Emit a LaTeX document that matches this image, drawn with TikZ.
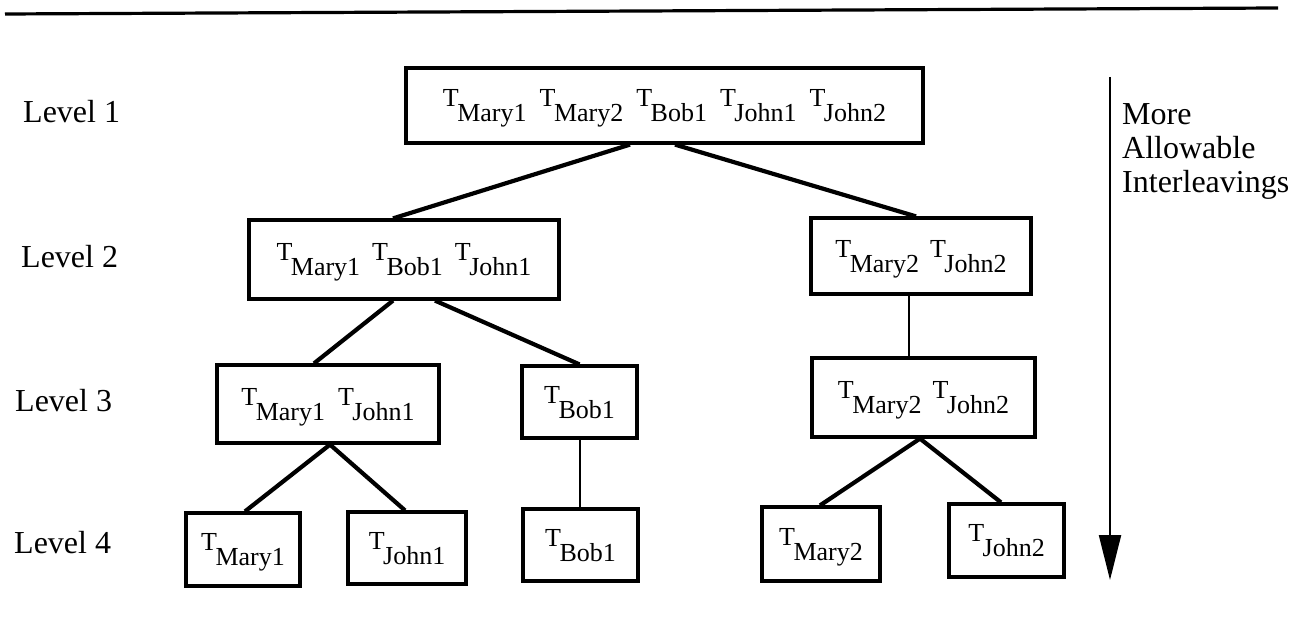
\documentclass[tikz,border=0pt]{standalone}
\usepackage{fontspec}
\setmainfont{Liberation Serif}
\usetikzlibrary{arrows.meta}
\newcommand{\Tsub}[1]{T\kern-1.5pt\raisebox{-15pt}{\fontsize{26}{26}\selectfont #1}}
\begin{document}
\begin{tikzpicture}[x=1pt,y=-1pt,
  tbox/.style={draw, line width=3.2pt, inner sep=0pt, text height=17pt, text depth=15pt,
               font=\fontsize{26}{30}\selectfont},
  heavyline/.style={line width=4.2pt},
  lightline/.style={line width=2pt},
  lvl/.style={anchor=base west, inner sep=0pt, font=\fontsize{32}{34}\selectfont}]
\fill[white] (0,0) rectangle (1305,631);
\useasboundingbox (0,0) rectangle (1305,631);

% top rule
\coordinate (ruleL) at (5,14);
\coordinate (ruleR) at (1278,8);
\draw[line width=3.2pt] (ruleL) -- (ruleR);

% level labels
\node[lvl] (lv1) at (23,123) {Level 1};
\node[lvl] (lv2) at (21,267) {Level 2};
\node[lvl] (lv3) at (15,411) {Level 3};
\node[lvl] (lv4) at (14,553) {Level 4};

% boxes
\node[tbox, minimum width=517pt, minimum height=75pt] (l1) at (664.5,105.5)
  {\Tsub{Mary1}\hspace{13pt}\Tsub{Mary2}\hspace{13pt}\Tsub{Bob1}\hspace{13pt}\Tsub{John1}\hspace{13pt}\Tsub{John2}};
\node[tbox, minimum width=310pt, minimum height=79pt] (l2a) at (404,259.5)
  {\Tsub{Mary1}\hspace{12pt}\Tsub{Bob1}\hspace{12pt}\Tsub{John1}};
\node[tbox, minimum width=220pt, minimum height=76pt] (l2b) at (921,256)
  {\Tsub{Mary2}\hspace{11pt}\Tsub{John2}};
\node[tbox, minimum width=222pt, minimum height=78pt] (l3a) at (328,404)
  {\Tsub{Mary1}\hspace{13pt}\Tsub{John1}};
\node[tbox, minimum width=115pt, minimum height=72pt] (l3b) at (579.5,402)
  {\Tsub{Bob1}};
\node[tbox, minimum width=223pt, minimum height=79pt] (l3c) at (923.5,397.5)
  {\Tsub{Mary2}\hspace{11pt}\Tsub{John2}};
\node[tbox, minimum width=114pt, minimum height=73pt] (l4a) at (243,549.5)
  {\Tsub{Mary1}};
\node[tbox, minimum width=118pt, minimum height=72pt] (l4b) at (407,548)
  {\Tsub{John1}};
\node[tbox, minimum width=115pt, minimum height=72pt] (l4c) at (580.5,545)
  {\Tsub{Bob1}};
\node[tbox, minimum width=118pt, minimum height=74pt] (l4d) at (821,544)
  {\Tsub{Mary2}};
\node[tbox, minimum width=115pt, minimum height=73pt] (l4e) at (1006.5,540.5)
  {\Tsub{John2}};

% connectors
\draw[heavyline] ([xshift=-34.5pt]l1.south) -- ([xshift=-11pt]l2a.north);
\draw[heavyline] ([xshift=10.5pt]l1.south) -- ([xshift=-5pt]l2b.north);
\draw[heavyline] ([xshift=-11pt]l2a.south) -- ([xshift=-14pt]l3a.north);
\draw[heavyline] ([xshift=31pt]l2a.south) -- (l3b.north);
\coordinate (c2b) at ([xshift=-12pt]l2b.south);
\draw[lightline] (c2b) -- (c2b |- l3c.north);
\draw[heavyline] ([xshift=2pt]l3a.south) -- ([xshift=2pt]l4a.north);
\draw[heavyline] ([xshift=2pt]l3a.south) -- ([xshift=-2pt]l4b.north);
\draw[lightline] (l3b.south) -- (l3b.south |- l4c.north);
\draw[heavyline] ([xshift=-3.5pt]l3c.south) -- ([xshift=-1pt]l4d.north);
\draw[heavyline] ([xshift=-3.5pt]l3c.south) -- ([xshift=-5.5pt]l4e.north);

% side arrow and label
\coordinate (arrtop) at (1110,77);
\coordinate (arrbot) at (1110,580);
\draw[line width=2.2pt, -{Triangle[length=45pt,width=22pt]}] (arrtop) -- (arrbot);
\node[anchor=north west, inner sep=0pt, align=left, font=\fontsize{32}{34}\selectfont] (more) at (1122,103)
  {More\\Allowable\\Interleavings};
\end{tikzpicture}
\end{document}
